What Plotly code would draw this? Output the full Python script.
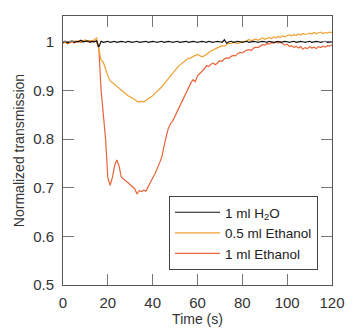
import plotly.graph_objects as go

# time axis, 1 s steps (s)
time_s = list(range(0, 121))

# 1 ml H2O
water = [
    0.999, 1.001, 0.998, 1.000, 1.002, 0.999, 1.001, 1.000, 1.003, 1.000,
    1.001, 1.002, 0.999, 1.001, 1.000, 1.002, 0.989, 1.001, 0.999, 1.000,
    1.001, 0.999, 1.000, 1.001, 0.999, 1.000, 1.001, 1.000, 0.999, 1.001,
    1.000, 0.999, 1.000, 1.001, 0.999, 1.000, 1.000, 1.001, 0.999, 1.000,
    1.001, 1.000, 0.999, 1.000, 1.001, 0.999, 1.000, 1.001, 1.000, 0.999,
    1.000, 1.001, 0.999, 1.000, 1.000, 1.001, 0.999, 1.000, 1.001, 1.000,
    0.999, 1.000, 1.001, 1.000, 0.999, 1.001, 1.000, 0.999, 1.000, 1.001,
    1.000, 0.999, 1.004, 0.997, 1.000, 1.001, 0.999, 1.000, 1.001, 1.000,
    0.999, 1.000, 1.001, 0.999, 1.000, 1.001, 1.000, 0.999, 1.000, 1.001,
    1.000, 0.999, 1.001, 1.000, 0.999, 1.000, 1.001, 0.999, 1.000, 1.001,
    1.000, 0.999, 1.000, 1.001, 0.999, 1.000, 1.001, 1.000, 0.999, 1.000,
    1.001, 0.999, 1.000, 1.001, 1.000, 0.999, 1.000, 1.001, 0.999, 1.000,
    1.000,
]

# 0.5 ml Ethanol
ethanol_05 = [
    0.998, 1.000, 0.997, 1.001, 0.999, 1.002, 1.000, 1.003, 1.001, 1.002,
    1.004, 1.001, 1.003, 1.002, 1.004, 1.008, 0.988, 0.962, 0.958, 0.942,
    0.930, 0.920, 0.916, 0.912, 0.908, 0.905, 0.902, 0.897, 0.893, 0.889,
    0.887, 0.884, 0.880, 0.878, 0.876, 0.878, 0.876, 0.880, 0.883, 0.886,
    0.889, 0.894, 0.898, 0.902, 0.907, 0.913, 0.919, 0.925, 0.931, 0.937,
    0.943, 0.947, 0.952, 0.955, 0.959, 0.963, 0.966, 0.967, 0.970, 0.972,
    0.974, 0.972, 0.969, 0.971, 0.975, 0.978, 0.981, 0.983, 0.986, 0.988,
    0.990, 0.992, 0.991, 0.994, 0.997, 0.996, 0.999, 0.997, 0.996, 0.998,
    1.001, 1.000, 1.003, 1.005, 1.002, 1.004, 1.006, 1.003, 1.006, 1.008,
    1.005, 1.007, 1.009, 1.006, 1.010, 1.008, 1.011, 1.009, 1.012, 1.010,
    1.013, 1.014, 1.012, 1.015, 1.013, 1.016, 1.014, 1.017, 1.015, 1.016,
    1.018, 1.016, 1.019, 1.017, 1.018, 1.020, 1.017, 1.019, 1.018, 1.020,
    1.019,
]

# 1 ml Ethanol
ethanol_1 = [
    0.997, 0.999, 0.996, 0.998, 1.000, 0.998, 0.999, 1.001, 0.999, 1.000,
    1.002, 1.000, 1.001, 0.999, 1.002, 1.000, 0.985, 0.900, 0.850, 0.800,
    0.720, 0.705, 0.720, 0.745, 0.757, 0.745, 0.722, 0.718, 0.714, 0.712,
    0.706, 0.703, 0.698, 0.687, 0.694, 0.692, 0.695, 0.693, 0.703, 0.712,
    0.720, 0.728, 0.738, 0.750, 0.762, 0.786, 0.805, 0.822, 0.832, 0.838,
    0.848, 0.858, 0.866, 0.876, 0.886, 0.897, 0.908, 0.915, 0.922, 0.918,
    0.930, 0.935, 0.938, 0.944, 0.951, 0.949, 0.954, 0.956, 0.953, 0.958,
    0.961, 0.960, 0.965, 0.967, 0.966, 0.970, 0.972, 0.971, 0.976, 0.978,
    0.977, 0.980, 0.983, 0.984, 0.982, 0.987, 0.989, 0.988, 0.992, 0.994,
    0.993, 0.996, 0.995, 0.998, 0.997, 0.999, 0.998, 1.000, 0.996, 0.993,
    0.995, 0.990, 0.992, 0.988, 0.991, 0.987, 0.990, 0.985, 0.988, 0.986,
    0.990, 0.987, 0.989, 0.986, 0.990, 0.988, 0.991, 0.989, 0.992, 0.991,
    0.994,
]

x_ticks = [0, 20, 40, 60, 80, 100, 120]
y_ticks = [0.5, 0.6, 0.7, 0.8, 0.9, 1.0]
y_labels = ["0.5", "0.6", "0.7", "0.8", "0.9", "1"]

fig = go.Figure()
# drawn bottom-to-top; legend reversed so H2O is listed first
fig.add_trace(go.Scatter(x=time_s, y=ethanol_1, mode="lines", name="1 ml Ethanol",
                         line=dict(color="#E8643A", width=1.2)))
fig.add_trace(go.Scatter(x=time_s, y=ethanol_05, mode="lines", name="0.5 ml Ethanol",
                         line=dict(color="#F0A030", width=1.2)))
fig.add_trace(go.Scatter(x=time_s, y=water, mode="lines", name="1 ml H<sub>2</sub>O",
                         line=dict(color="#111111", width=1.2)))

axis_common = dict(
    showline=True, linecolor="#555555", linewidth=1, mirror="ticks",
    ticks="inside", ticklen=11, tickcolor="#777777", tickwidth=1,
    showgrid=False, zeroline=False, automargin=False,
    tickfont=dict(size=15, color="#333333"),
)

fig.update_xaxes(range=[0, 120], tickvals=x_ticks, ticklabelstandoff=4,
                 title=dict(text="Time (s)", font=dict(size=14, color="#333333"), standoff=4),
                 **axis_common)
fig.update_yaxes(range=[0.5, 1.053], tickvals=y_ticks, ticktext=y_labels, ticklabelstandoff=5,
                 title=dict(text="Normalized transmission", font=dict(size=14, color="#333333"), standoff=5),
                 **axis_common)

# page body has an 8px margin, so the margins below account for it
fig.update_layout(
    width=357, height=335,
    margin=dict(l=55, r=33, t=8, b=58),
    paper_bgcolor="white", plot_bgcolor="white",
    font=dict(family="Liberation Sans, Arial, sans-serif", size=13, color="#333333"),
    showlegend=True,
    legend=dict(x=0.394, y=0.331, xanchor="left", yanchor="top",
                traceorder="reversed", bordercolor="#444444", borderwidth=1,
                bgcolor="white", font=dict(size=13.5, color="#222222"),
                itemwidth=45, tracegroupgap=0),
)

fig.write_html("out.html")
